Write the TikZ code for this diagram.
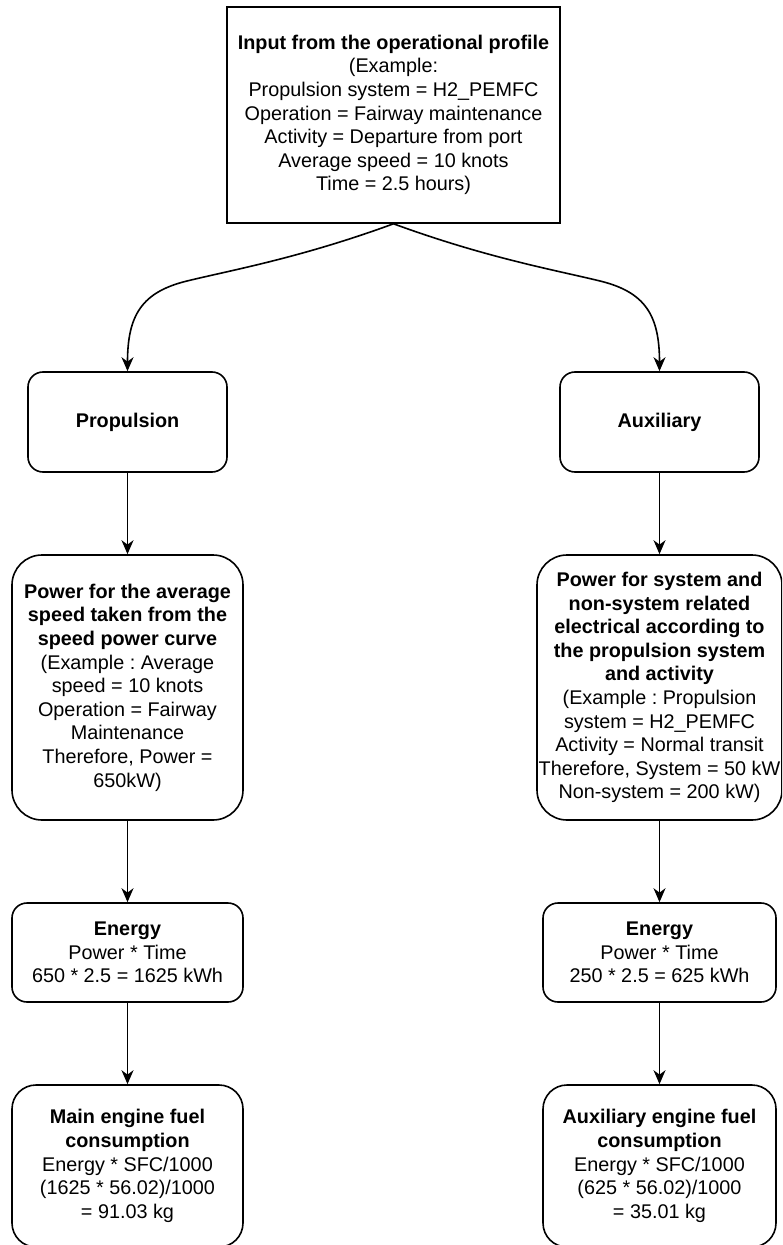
\documentclass[tikz,border=0pt]{standalone}
\usepackage{fontspec}
\setmainfont{Liberation Sans}
\usetikzlibrary{arrows.meta}
\frenchspacing
\tikzstyle{plainbox}=[draw=black,line width=0.8pt,align=center,
                      inner sep=0pt,font=\fontsize{9.9}{11.8}\selectfont]
\tikzstyle{roundbox}=[plainbox,rounded corners=7.5pt]
\tikzstyle{flow}=[line width=0.8pt,
                  -{Stealth[length=7pt,width=6pt,inset=2.2pt]}]

\begin{document}
\begin{tikzpicture}[x=0.5pt,y=-0.5pt]
    \newcommand{\colL}{127.5}
    \newcommand{\colR}{659.5}
    \useasboundingbox (0,0) rectangle (782,1245);
    \clip (0,0) rectangle (782,1245);
    % input
    \node (top) at (393.5, 115) [plainbox,minimum width=166.5pt,minimum height=108pt]
      {\textbf{Input from the operational profile}\\(Example:\\Propulsion system = H2\_PEMFC\\
       Operation = Fairway maintenance\\Activity = Departure from port\\
       Average speed = 10 knots\\Time = 2.5 hours)};
    % left column
    \node (prop) at (\colL, 422) [roundbox,minimum width=99.5pt,minimum height=50pt]
      {\textbf{Propulsion}};
    \node (powL) at (\colL, 687.5) [roundbox,rounded corners=15pt,
                                    minimum width=115.5pt,minimum height=132.5pt]
      {\textbf{Power for the average}\\\textbf{speed taken from the}\\\textbf{speed power curve}\\
       (Example : Average\\speed = 10 knots\\Operation = Fairway\\Maintenance\\
       Therefore, Power =\\650kW)};
    \node (enL) at (\colL, 952.5) [roundbox,minimum width=115.5pt,minimum height=49.5pt]
      {\textbf{Energy}\\Power * Time\\650 * 2.5 = 1625 kWh};
    \node (fuelL) at (\colL, 1166) [roundbox,rounded corners=12pt,
                                    minimum width=115.5pt,minimum height=81pt]
      {\textbf{Main engine fuel}\\\textbf{consumption}\\Energy * SFC/1000\\
       (1625 * 56.02)/1000\\= 91.03 kg};
    % right column
    \node (aux) at (\colR, 422) [roundbox,minimum width=99.5pt,minimum height=50pt]
      {\textbf{Auxiliary}};
    \node (powR) at (\colR, 687.5) [roundbox,rounded corners=15pt,
                                    minimum width=122.5pt,minimum height=132.5pt]
      {\textbf{Power for system and}\\\textbf{non-system related}\\
       \textbf{electrical according to}\\\textbf{the propulsion system}\\\textbf{and activity}\\
       (Example : Propulsion\\system = H2\_PEMFC\\Activity = Normal transit\\
       Therefore, System = 50 kW\\Non-system = 200 kW)};
    \node (enR) at (\colR, 952.5) [roundbox,minimum width=116.5pt,minimum height=49.5pt]
      {\textbf{Energy}\\Power * Time\\250 * 2.5 = 625 kWh};
    \node (fuelR) at (\colR, 1166) [roundbox,rounded corners=12pt,
                                    minimum width=116.5pt,minimum height=81pt]
      {\textbf{Auxiliary engine fuel}\\\textbf{consumption}\\Energy * SFC/1000\\
       (625 * 56.02)/1000\\= 35.01 kg};
    % connectors
    \coordinate (bendL) at (187, 281);
    \coordinate (bendR) at (600, 281);
    \draw[flow] (top.south) .. controls (300,258) and (232,270) .. (bendL)
                .. controls (142,292) and (\colL,315) .. (prop.north);
    \draw[flow] (top.south) .. controls (487,258) and (555,270) .. (bendR)
                .. controls (645,292) and (\colR,315) .. (aux.north);
    \draw[flow] (prop) -- (powL);
    \draw[flow] (powL) -- (enL);
    \draw[flow] (enL) -- (fuelL);
    \draw[flow] (aux) -- (powR);
    \draw[flow] (powR) -- (enR);
    \draw[flow] (enR) -- (fuelR);
  \end{tikzpicture}
\end{document}
